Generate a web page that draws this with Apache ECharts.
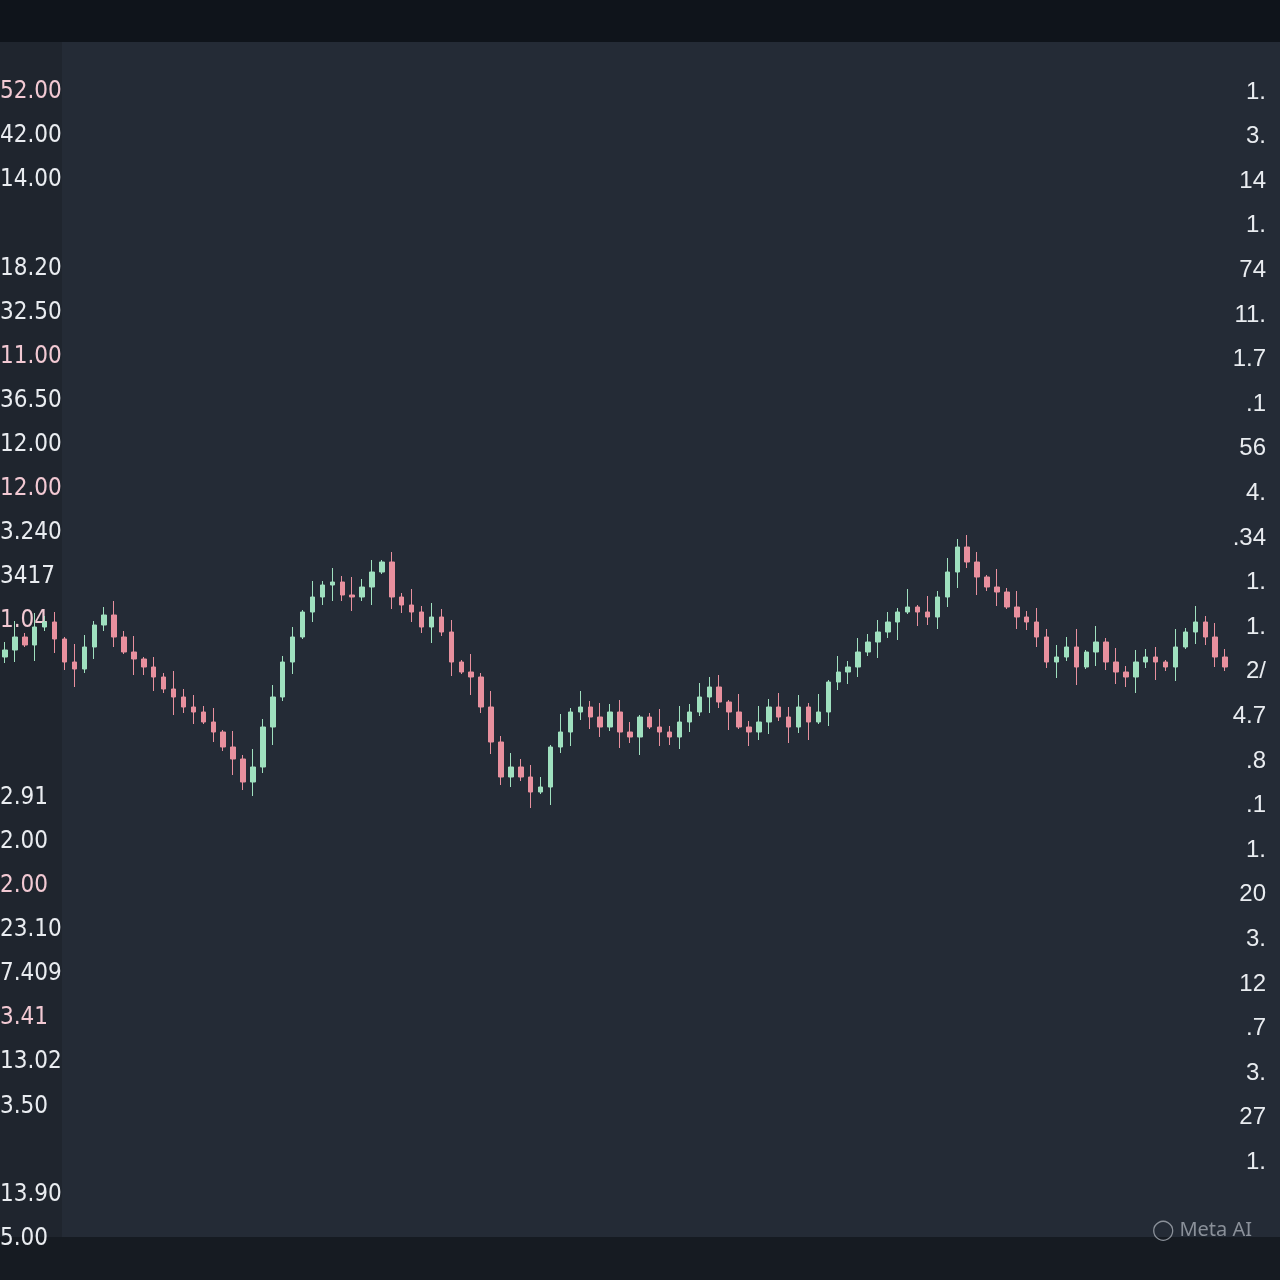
<!DOCTYPE html>
<html><head><meta charset="utf-8">
<script src="https://cdn.jsdelivr.net/npm/echarts@6/dist/echarts.min.js"></script>
<style>html,body{margin:0;padding:0;background:#10151c}#c{width:1280px;height:1280px}</style>
</head><body><div id="c"></div>
<script>
const closes=[587,600,592,610,615,598,575,568,590,612,622,600,585,578,570,560,548,540,530,525,515,505,490,478,455,470,510,540,575,600,625,640,652,655,642,640,650,665,675,640,632,625,610,620,605,575,565,560,530,495,460,470,460,445,450,490,505,525,530,520,510,525,505,500,520,510,505,500,515,525,540,550,535,525,510,505,515,530,520,510,530,515,525,555,565,570,585,595,605,615,625,630,625,620,640,665,690,675,660,650,645,630,620,615,600,575,580,590,570,585,595,575,565,560,575,580,575,570,590,605,615,600,580,570,575];
const upperWicks="4827351962473815294637182946351827394615283746192837465192837465129384756193847562918374652918374651928374659182736451928374";
const lowerWicks="3618274926351847293615284739261548372916453827193645281937465283917465283917462839174652839174658392716453829174658392716452";
const leftLabels=["52.00","42.00","14.00","","18.20","32.50","11.00","36.50","12.00","12.00","3.240","3417","1.04","","","","2.91","2.00","2.00","23.10","7.409","3.41","13.02","3.50","","13.90","5.00"];
const rightLabels=["1.","3.","14","1.","74","11.","1.7",".1","56","4.",".34","1.","1.","2/","4.7",".8",".1","1.","20","3.","12",".7","3.","27","1."];

const cats=closes.map((_,i)=>String(i));
const data=closes.map((c,i)=>{
  const o=i===0?580:closes[i-1];
  const hi=Math.max(o,c)+Number(upperWicks[i])*2;
  const lo=Math.min(o,c)-Number(lowerWicks[i])*2;
  return [o,c,lo,hi];
});
const g=[];
g.push({type:'rect',shape:{x:0,y:0,width:1280,height:42},style:{fill:'#0f141b'},silent:true,z:-10});
g.push({type:'rect',shape:{x:0,y:1237,width:1280,height:43},style:{fill:'#161b22'},silent:true,z:-10});
g.push({type:'rect',shape:{x:0,y:42,width:62,height:1195},style:{fill:'#1f252e'},silent:true,z:-9});
leftLabels.forEach((t,i)=>{ if(!t)return; g.push({type:'text',left:0,top:80+i*44.1,style:{text:t,fill:i%3===0?'#f2c9d3':'#e9ecf0',font:'24px "Liberation Sans Narrow", "DejaVu Sans Condensed", sans-serif'}});});
rightLabels.forEach((t,i)=>{ g.push({type:'text',right:14,top:80+i*44.6,style:{text:t,fill:'#e9ecf0',font:'24px "Liberation Sans Narrow", sans-serif'}});});
g.push({type:'text',right:28,top:1220,style:{text:'◯ Meta AI',fill:'#8a9099',font:'20px "Noto Sans", sans-serif'}});

const chart=echarts.init(document.getElementById('c'));
chart.setOption({
  backgroundColor:'#242b36',
  animation:false,
  graphic:g,
  grid:{left:0,right:40,top:42,bottom:43},
  xAxis:{type:'category',data:cats,show:false,boundaryGap:true},
  yAxis:{type:'value',min:0,max:1195,show:false,splitLine:{show:false}},
  series:[{type:'candlestick',data:data,barMaxWidth:5,
    itemStyle:{color:'#9fe0bf',color0:'#e8909e',borderColor:'#9fe0bf',borderColor0:'#e8909e',borderWidth:1}}]
});
</script></body></html>
